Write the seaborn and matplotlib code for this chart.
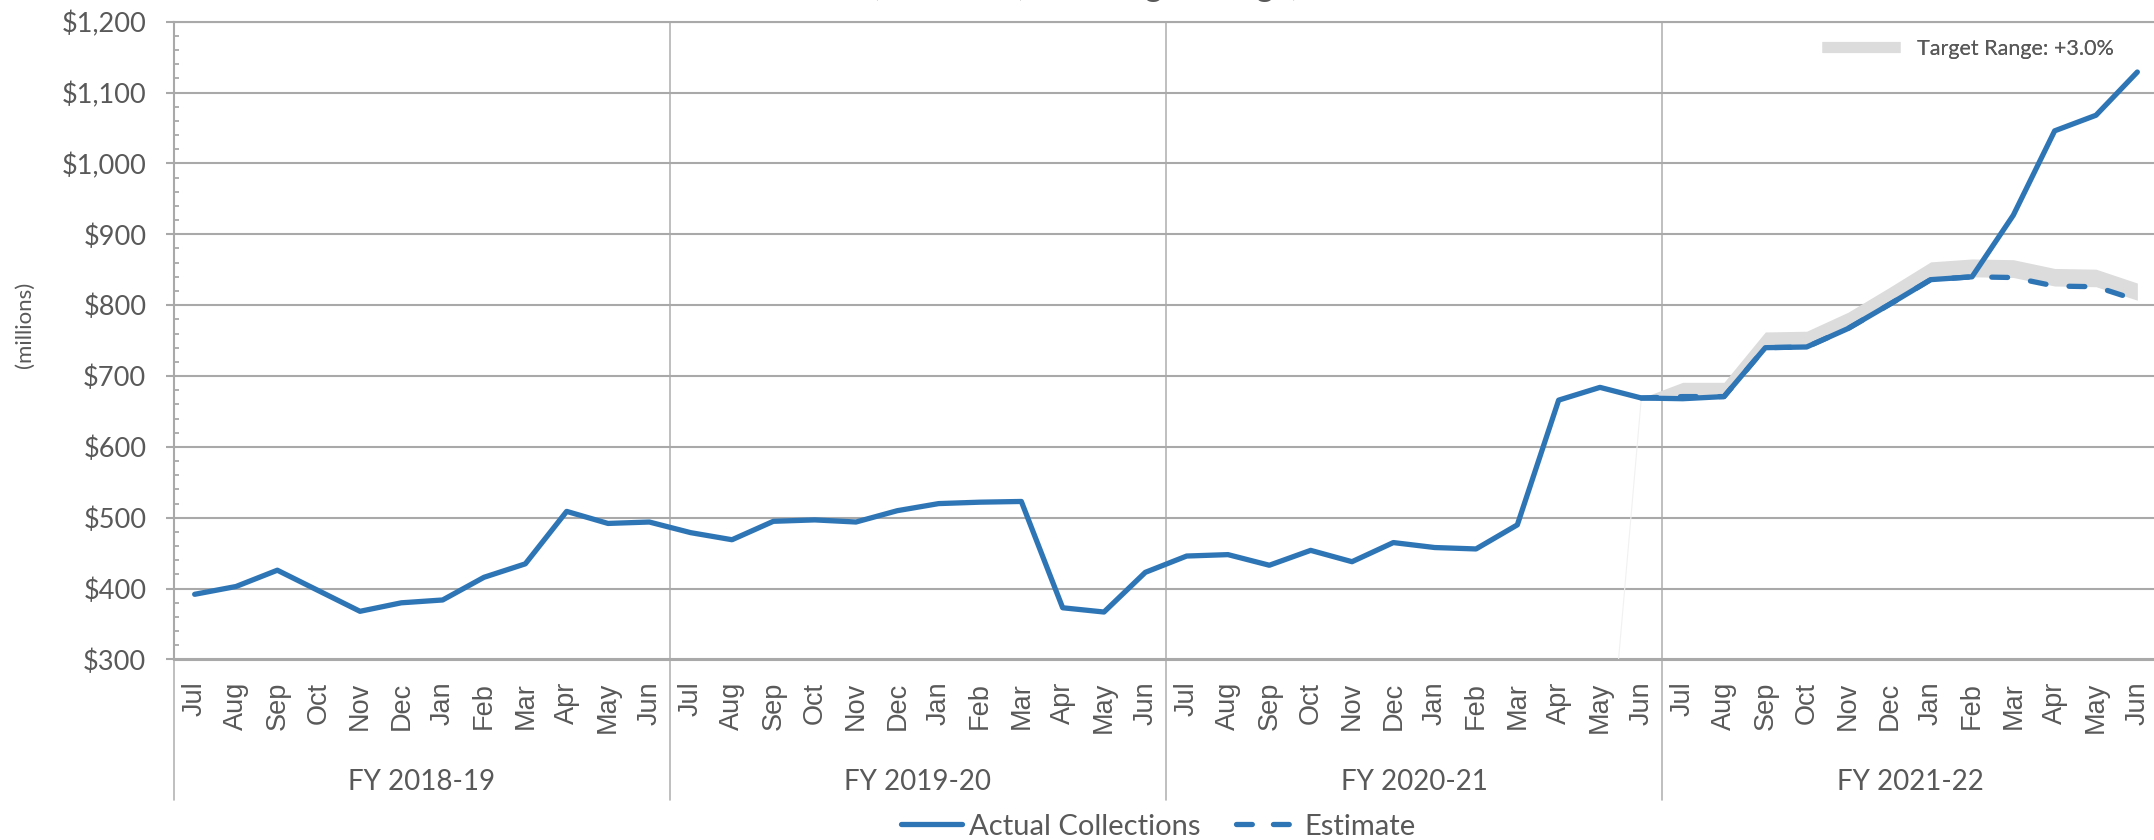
import numpy as np
import pandas as pd
import matplotlib
matplotlib.use("Agg")
import matplotlib.pyplot as plt
import matplotlib.transforms as mtransforms
from matplotlib.lines import Line2D
from matplotlib.ticker import MultipleLocator, FuncFormatter
import seaborn as sns

# ---- data -------------------------------------------------------------
months = ["Jul", "Aug", "Sep", "Oct", "Nov", "Dec",
          "Jan", "Feb", "Mar", "Apr", "May", "Jun"]
fiscal_years = ["FY 2018-19", "FY 2019-20", "FY 2020-21", "FY 2021-22"]

actual_fy19 = [392, 403, 426, 397, 368, 380, 384, 416, 435, 509, 492, 494]
actual_fy20 = [479, 469, 495, 497, 494, 510, 520, 522, 523, 373, 367, 423]
actual_fy21 = [446, 448, 433, 454, 438, 465, 458, 456, 490, 666, 684, 669]
actual_fy22 = [668, 671, 740, 741, 767, 801, 836, 840, 927, 1046, 1068, 1129]

# estimate runs from Jun FY 2020-21 through Jun FY 2021-22
estimate_start = 35
estimate = [669, 671, 671, 740, 741, 767, 801, 836, 840, 839, 827, 826, 807]
target_rate = 0.03
target_label = "Target Range: +3.0%"

# lower edge of the band's stacked area (starts from zero in May FY 2020-21)
band_base_start = 34
band_base = [0, 669]

title_text = "Actual Collections, Estimate, and Target Range, FY 2018-19 to FY 2021-22"

# ---- frame ------------------------------------------------------------
actual = actual_fy19 + actual_fy20 + actual_fy21 + actual_fy22
n = len(actual)
df_actual = pd.DataFrame({"pos": np.arange(n), "value": actual})
est_pos = np.arange(estimate_start, estimate_start + len(estimate))
df_est = pd.DataFrame({"pos": est_pos, "value": estimate})
# the band opens from the last actual month (zero width there)
upper = np.array(estimate, dtype=float) * (1 + target_rate)
upper[0] = estimate[0]
df_base = pd.DataFrame({"pos": np.arange(band_base_start, band_base_start + len(band_base)),
                        "value": band_base})

sns.set_theme(style="white")
TEXT = "#595959"
GRID = "#a9a9a9"
BLUE = "#2e75b6"
BAND = "#dcdcdc"
plt.rcParams["font.family"] = ["Lato", "DejaVu Sans"]

W, H = 2154, 840
fig = plt.figure(figsize=(W / 100, H / 100), dpi=100)
fig.patch.set_facecolor("white")
left_px, right_px, top_px, bot_px = 174, 2158, 21.7, 659.5
ax = fig.add_axes([left_px / W, 1 - bot_px / H, (right_px - left_px) / W, (bot_px - top_px) / H])
ax.set_facecolor("white")

# target band
ax.fill_between(est_pos, estimate, upper, color=BAND, linewidth=0, zorder=1)
sns.lineplot(data=df_base, x="pos", y="value", ax=ax, color="#f1f1f1", linewidth=0.8, zorder=1)

# estimate (dashed) and actual (solid)
sns.lineplot(data=df_est, x="pos", y="value", ax=ax, color=BLUE, linewidth=3.8, zorder=2)
est_line = ax.lines[-1]
est_line.set_dashes((3.0, 4.4))
est_line.set_dash_capstyle("round")
sns.lineplot(data=df_actual, x="pos", y="value", ax=ax, color=BLUE, linewidth=3.8, zorder=3)
ax.lines[-1].set_solid_joinstyle("round")
ax.lines[-1].set_solid_capstyle("round")

# ---- axes -------------------------------------------------------------
ax.set_xlim(-0.5, n - 0.5)
ax.set_ylim(300, 1200)
ax.set_xlabel("")
ax.set_ylabel("")

ax.yaxis.set_major_locator(MultipleLocator(100))
ax.yaxis.set_minor_locator(MultipleLocator(20))
ax.yaxis.set_major_formatter(FuncFormatter(lambda v, p: f"${v:,.0f}"))
ax.tick_params(axis="y", which="major", direction="out", length=6, width=1.5,
               color=GRID, labelsize=19.5, labelcolor=TEXT, pad=14, left=True)
ax.tick_params(axis="y", which="minor", direction="in", length=3.8, width=1.3,
               color=GRID, left=True)
ax.yaxis.grid(True, which="major", color=GRID, linewidth=1.5)
ax.set_axisbelow(True)

ax.set_xticks(np.arange(n))
ax.set_xticklabels(months * len(fiscal_years), rotation=90,
                   fontfamily=["Liberation Sans", "DejaVu Sans"])
ax.tick_params(axis="x", length=0, labelsize=19.5, labelcolor=TEXT, pad=16)

ax.spines["right"].set_visible(False)
for side in ["top", "bottom", "left"]:
    ax.spines[side].set_color(GRID)
    ax.spines[side].set_linewidth(1.5)

# fiscal-year separators running down through the category labels
ext = -(800 - bot_px) / (bot_px - top_px)
for k in range(len(fiscal_years) + 1):
    ax.axvline(k * 12 - 0.5, ymin=ext, ymax=1, color="#b4b4b4", linewidth=1.2,
               clip_on=False, zorder=0.5)

trans = mtransforms.blended_transform_factory(ax.transData, ax.transAxes)
grp_y = -(781.7 - bot_px) / (bot_px - top_px)
for k, fy in enumerate(fiscal_years):
    ax.text(k * 12 + 5.5, grp_y, fy, transform=trans, ha="center", va="center",
            fontsize=20, color=TEXT)

fig.text(25 / W, 1 - 325 / H, "(millions)", rotation=90, ha="center", va="center",
         fontsize=16, color=TEXT)

# title sits above the canvas; only its descenders reach into view
fig.text(1160 / W, 1 + 4 / H, title_text, ha="center", va="baseline",
         fontsize=24, color=TEXT)

# legends
band_handle = Line2D([0], [0], color=BAND, linewidth=8, solid_capstyle="butt")
leg1 = ax.legend([band_handle], [target_label], loc="center right",
                 bbox_to_anchor=(2114 / W, 1 - 49 / H), bbox_transform=fig.transFigure,
                 frameon=False, fontsize=15.5, handlelength=3.6, handletextpad=0.8,
                 labelcolor=TEXT, borderaxespad=0, borderpad=0)
ax.add_artist(leg1)

h_act = Line2D([0], [0], color=BLUE, linewidth=3.8, solid_capstyle="round")
h_est = Line2D([0], [0], color=BLUE, linewidth=3.8, dashes=(3.0, 4.0), dash_capstyle="round")
fig.legend([h_act, h_est], ["Actual Collections", "Estimate"], loc="center",
           bbox_to_anchor=(1158 / W, 1 - 826.7 / H), ncol=2, frameon=False,
           fontsize=21, handlelength=2.1, handletextpad=0.25, columnspacing=1.2,
           labelcolor=TEXT, borderpad=0)

fig.savefig("out.png", dpi=100, facecolor="white")
